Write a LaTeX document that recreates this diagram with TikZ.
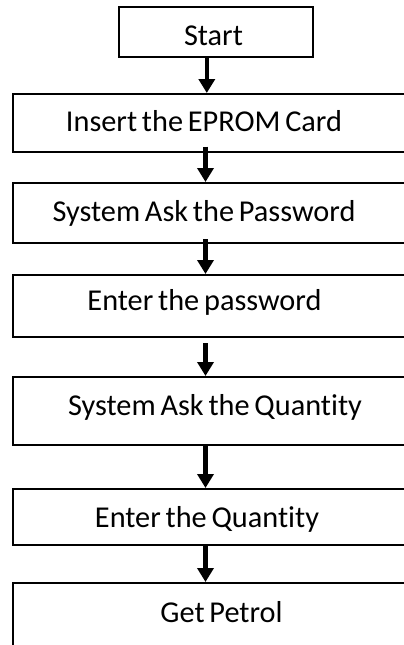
\documentclass[tikz,border=0pt]{standalone}
\usepackage{fontspec}
\setmainfont{Carlito}[Ligatures=NoCommon, WordSpace=0.7]
\usetikzlibrary{arrows.meta}
\tikzset{
  stepbox/.style={draw=black, line width=2pt, rectangle, inner sep=0pt},
  steptext/.style={anchor=base, inner sep=0pt, font=\fontsize{30.3}{36}\selectfont},
  flow/.style={line width=4.5pt, -{Triangle[width=16pt,length=14pt]}, shorten >=0pt},
}
\begin{document}
\begin{tikzpicture}[x=1pt, y=-1pt]
  \useasboundingbox (0,0) rectangle (404,645);

  % boxes (the long ones run off the right edge)
  \node[stepbox, minimum width=193.7pt, minimum height=50pt] (start) at (215.9,32.3) {};
  \node[stepbox, minimum width=407.5pt, minimum height=57.7pt] (b1) at (216.25,122.85) {};
  \node[stepbox, minimum width=407.5pt, minimum height=60pt]   (b2) at (216.25,213) {};
  \node[stepbox, minimum width=407.5pt, minimum height=62pt]   (b3) at (216.25,306) {};
  \node[stepbox, minimum width=407.5pt, minimum height=68pt]   (b4) at (216.25,411) {};
  \node[stepbox, minimum width=407.5pt, minimum height=56pt]   (b5) at (216.25,517) {};
  \node[stepbox, minimum width=407.5pt, minimum height=90pt]   (b6) at (216.25,628) {};

  % labels
  \node[steptext] (t0) at (213.5,45)  {Start};
  \node[steptext] (t1) at (204,131.7) {Insert the EPROM Card};
  \node[steptext] (t2) at (204,221)   {System Ask the Password};
  \node[steptext] (t3) at (204.5,310) {Enter the password};
  \node[steptext] (t4) at (215,415)   {System Ask the Quantity};
  \node[steptext] (t5) at (207,527)   {Enter the Quantity};
  \node[steptext] (t6) at (221.5,622) {Get Petrol};

  % connectors
  \coordinate (a0) at (206.8,0);
  \coordinate (ax) at (205.5,0);
  \draw[flow] (start.south -| a0) -- (b1.north -| a0);
  \draw[flow] ([yshift=6pt]b1.south -| ax) -- (b2.north -| ax);
  \draw[flow] ([yshift=5pt]b2.south -| ax) -- (b3.north -| ax);
  \draw[flow] ([yshift=-5pt]b3.south -| ax) -- (b4.north -| ax);
  \draw[flow] (b4.south -| ax) -- (b5.north -| ax);
  \draw[flow] (b5.south -| ax) -- (b6.north -| ax);
\end{tikzpicture}
\end{document}
